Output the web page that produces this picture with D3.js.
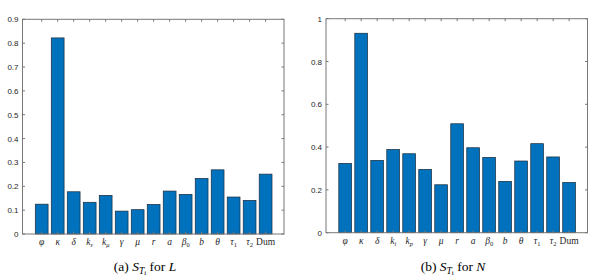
<!DOCTYPE html>
<html lang="en">
<head>
<meta charset="UTF-8">
<title>Total-order sensitivity indices</title>
<script src="https://d3js.org/d3.v7.min.js"></script>
<style>
    body { margin: 0; background: #fff; }
    svg { display: block; }
    .tick-label { font-family: "Liberation Sans", Arial, sans-serif; font-size: 8px; fill: #262626; }
    .cat-label { font-family: "Liberation Serif", "Times New Roman", serif; font-size: 9.5px; fill: #262626; }
    .caption { font-family: "Liberation Serif", "Times New Roman", serif; font-size: 13.5px; fill: #000; }
</style>
</head>
<body>
<svg width="594" height="280"></svg>
<script>
    // category labels: [main, subscript]
    var labelsL = [["φ"], ["κ"], ["δ"], ["k", "ε"], ["k", "μ"], ["γ"], ["μ"], ["r"], ["a"], ["β", "0"], ["b"], ["θ"], ["τ", "1"], ["τ", "2"], ["Dum"]];
    var labelsN = [["φ"], ["κ"], ["δ"], ["k", "i"], ["k", "p"], ["γ"], ["μ"], ["r"], ["a"], ["β", "0"], ["b"], ["θ"], ["τ", "1"], ["τ", "2"], ["Dum"]];

    var valuesL = [0.125, 0.822, 0.177, 0.133, 0.162, 0.096, 0.102, 0.124, 0.180, 0.166, 0.233, 0.269, 0.155, 0.141, 0.251];
    var valuesN = [0.324, 0.932, 0.338, 0.389, 0.369, 0.296, 0.224, 0.509, 0.397, 0.352, 0.240, 0.335, 0.416, 0.354, 0.235];

    var ticksL = [0, 0.1, 0.2, 0.3, 0.4, 0.5, 0.6, 0.7, 0.8, 0.9];
    var ticksN = [0, 0.2, 0.4, 0.6, 0.8, 1];

    var svg = d3.select("svg");

    function drawPanel(box, values, labels, yMax, yTicks, capLetter, capVar, capX) {
        var g = svg.append("g");
        var x = d3.scaleLinear().domain([-0.2, 16.15]).range([box.x0, box.x1]);
        var y = d3.scaleLinear().domain([0, yMax]).range([box.y1, box.y0]);
        var barW = x(0.8) - x(0);

        // bars
        g.selectAll("rect.bar")
            .data(values)
            .enter().append("rect")
            .attr("class", "bar")
            .attr("x", function(d, i) { return x(i + 1) - barW / 2; })
            .attr("width", barW)
            .attr("y", function(d) { return y(d); })
            .attr("height", function(d) { return y(0) - y(d); })
            .attr("fill", "#0072BD")
            .attr("stroke", "#1c2a38")
            .attr("stroke-width", 0.7);

        // box
        g.append("rect")
            .attr("x", box.x0).attr("y", box.y0)
            .attr("width", box.x1 - box.x0).attr("height", box.y1 - box.y0)
            .attr("fill", "none").attr("stroke", "#777").attr("stroke-width", 1);

        // y ticks (inward, both sides)
        var tl = 2.5;
        yTicks.forEach(function(t) {
            g.append("line").attr("x1", box.x0).attr("x2", box.x0 + tl)
                .attr("y1", y(t)).attr("y2", y(t)).attr("stroke", "#777");
            g.append("line").attr("x1", box.x1).attr("x2", box.x1 - tl)
                .attr("y1", y(t)).attr("y2", y(t)).attr("stroke", "#777");
            g.append("text").attr("class", "tick-label")
                .attr("x", box.x0 - 4).attr("y", y(t) + 3)
                .attr("text-anchor", "end")
                .text(d3.format("~g")(t));
        });

        // x ticks and labels
        labels.forEach(function(l, i) {
            var cx = x(i + 1);
            g.append("line").attr("x1", cx).attr("x2", cx)
                .attr("y1", box.y0).attr("y2", box.y0 + tl).attr("stroke", "#777");
            g.append("line").attr("x1", cx).attr("x2", cx)
                .attr("y1", box.y1).attr("y2", box.y1 - tl).attr("stroke", "#777");
            var t = g.append("text").attr("class", "cat-label")
                .attr("x", cx).attr("y", box.y1 + 11)
                .attr("text-anchor", "middle");
            t.append("tspan").attr("font-style", l[0] === "Dum" ? "normal" : "italic").text(l[0]);
            if (l[1]) {
                var isNum = /[0-9]/.test(l[1]);
                t.append("tspan").attr("font-size", "6.5px").attr("dy", 2)
                    .attr("font-style", isNum ? "normal" : "italic").text(l[1]);
            }
        });

        // caption
        var c = svg.append("text").attr("class", "caption")
            .attr("x", capX).attr("y", 271).attr("text-anchor", "middle");
        c.append("tspan").text("(" + capLetter + ") ");
        c.append("tspan").attr("font-style", "italic").text("S");
        c.append("tspan").attr("font-style", "italic").attr("font-size", "9.5px").attr("dy", 2.5).text("T");
        c.append("tspan").attr("font-size", "7px").attr("dy", 1.5).text("i");
        c.append("tspan").attr("dy", -4).text(" for ");
        c.append("tspan").attr("font-style", "italic").text(capVar);
    }

    drawPanel({ x0: 22.5, x1: 284, y0: 19.3, y1: 234 }, valuesL, labelsL, 0.9, ticksL, "a", "L", 145);
    drawPanel({ x0: 326, x1: 587.5, y0: 18.7, y1: 232.7 }, valuesN, labelsN, 1, ticksN, "b", "N", 453);
</script>
</body>
</html>
